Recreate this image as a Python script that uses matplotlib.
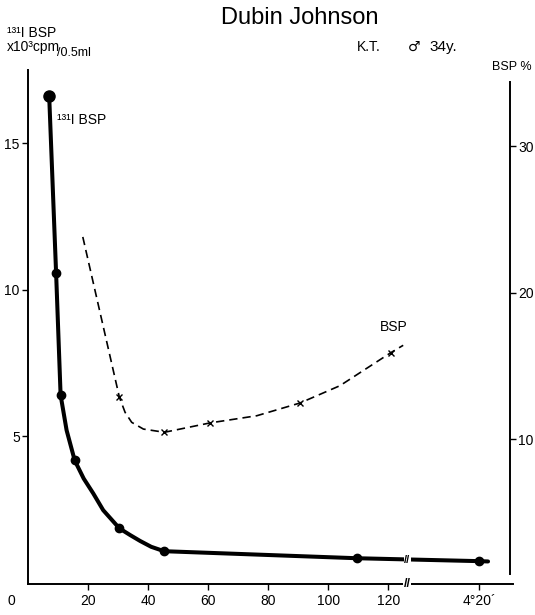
# Dubin Johnson: 131I BSP clearance and BSP % (two y axes, broken time axis)

import numpy as np
import matplotlib
matplotlib.use('Agg')
import matplotlib.pyplot as plt

plt.rcParams['font.family'] = ['Liberation Sans', 'DejaVu Sans']

# 131I BSP (x10^3 cpm / 0.5 ml), time in minutes
iv_line_t = [7.0, 9.3, 10.8, 12.8, 15.5, 18.5, 21.7, 25.0, 30.4, 34.0, 37.3, 41.0, 45.3, 109.5, 260, 276]
iv_line_v = [16.6, 10.57, 6.4, 5.2, 4.17, 3.55, 3.04, 2.47, 1.85, 1.62, 1.42, 1.22, 1.07, 0.83, 0.73, 0.72]
iv_mark_t = [9.3, 10.8, 15.5, 30.4, 45.3, 109.5, 260]
iv_mark_v = [10.57, 6.4, 4.17, 1.85, 1.07, 0.83, 0.73]
iv_first_t = [7.0]
iv_first_v = [16.6]

# BSP %
bsp_line_t = [18.2, 30.4, 32.3, 34.5, 38.4, 45.4, 60.6, 76.2, 90.6, 103.9, 120.9, 125]
bsp_line_v = [23.8, 12.85, 11.82, 11.14, 10.68, 10.46, 11.1, 11.59, 12.46, 13.64, 15.9, 16.4]
bsp_mark_t = [30.4, 45.4, 60.6, 90.6, 120.9]
bsp_mark_v = [12.85, 10.46, 11.1, 12.46, 15.9]

x_ticks = [20, 40, 60, 80, 100, 120, 260]
x_labels = ['20', '40', '60', '80', '100', '120', '4°20´']
left_ticks = [5, 10, 15]
right_ticks = [10, 20, 30]

# broken time axis: linear up to the break, compressed after it
BRK = 126.3
K = (150.4 - BRK) / (260 - BRK)


def fwd(t):
    t = np.asarray(t, dtype=float)
    return np.where(t <= BRK, t, BRK + (t - BRK) * K)


def inv(p):
    p = np.asarray(p, dtype=float)
    return np.where(p <= BRK, p, BRK + (p - BRK) / K)


fig = plt.figure(figsize=(5.35, 6.15), dpi=100)
ax = fig.add_axes([28.2 / 535, 31 / 615, (513 - 28.2) / 535, (584 - 70) / 615])
ax.set_xscale('function', functions=(fwd, inv))
ax.set_xlim(0, float(inv(161.6)))
ax.set_ylim(-0.05, 17.5)

ax.plot(iv_line_t, iv_line_v, color='black', lw=2.9, solid_capstyle='round',
        solid_joinstyle='round', zorder=3)
ax.plot(iv_mark_t, iv_mark_v, 'o', color='black', ms=6, zorder=4)
ax.plot(iv_first_t, iv_first_v, 'o', color='black', ms=8, zorder=4)

ax2 = ax.twinx()
ax2.set_ylim(0.1, 35.2)
ax2.plot(bsp_line_t, bsp_line_v, color='black', lw=1.2, dashes=[5, 3], zorder=3)
ax2.plot(bsp_mark_t, bsp_mark_v, 'x', color='black', ms=4, mew=1.0, zorder=4)

for a in (ax, ax2):
    a.spines['top'].set_visible(False)
    for s in a.spines.values():
        s.set_linewidth(1.4)
ax.spines['right'].set_visible(False)
ax2.spines['left'].set_visible(False)
ax2.spines['bottom'].set_visible(False)
ax2.spines['right'].set_position(('axes', 0.994))
ax2.spines['right'].set_bounds(0.8, 34.4)

ax.set_xticks(x_ticks)
ax.set_xticklabels(x_labels)
ax.set_yticks(left_ticks)
ax2.set_yticks(right_ticks)
ax.tick_params(axis='x', direction='out', length=4, width=1, pad=3, labelsize=10)
ax.tick_params(axis='y', direction='out', length=4, width=1, pad=2, labelsize=10)
ax2.tick_params(axis='y', direction='out', length=4, width=1, pad=2, labelsize=10)

# "0" sits left of the axis corner
ax.annotate('0', xy=(0, 0), xycoords='axes fraction', xytext=(-12, -7),
            textcoords='offset points', ha='center', va='top', fontsize=10)

# break marks on the time axis and on the curve
ax.text(BRK, 0, '//', transform=ax.get_xaxis_transform(), ha='center', va='center',
        fontsize=9, fontweight='bold', bbox=dict(fc='white', ec='none', pad=0.3), zorder=5,
        clip_on=False)
ax.text(BRK, 0.78, '//', ha='center', va='center', fontsize=8, fontweight='bold',
        bbox=dict(fc='white', ec='none', pad=0.3), zorder=5)

# labels
fig.text(300 / 535, 1 - 18 / 615, 'Dubin Johnson', ha='center', va='center', fontsize=17)
fig.text(357 / 535, 1 - 47 / 615, 'K.T.', ha='left', va='center', fontsize=10)
fig.text(414 / 535, 1 - 47 / 615, '♂', ha='center', va='center', fontsize=10,
         family=['DejaVu Sans'])
fig.text(429 / 535, 1 - 47 / 615, '34y.', ha='left', va='center', fontsize=11)
fig.text(7 / 535, 1 - 33 / 615, '¹³¹I BSP', ha='left', va='center', fontsize=10)
fig.text(7 / 535, 1 - 47 / 615, 'x10³cpm', ha='left', va='center', fontsize=10)
fig.text(57 / 535, 1 - 53 / 615, '/0.5ml', ha='left', va='center', fontsize=9)
fig.text(492 / 535, 1 - 67 / 615, 'BSP %', ha='left', va='center', fontsize=9)
ax.text(9.5, 15.8, '¹³¹I BSP', ha='left', va='center', fontsize=10)
ax2.text(122, 17.2, 'BSP', ha='center', va='bottom', fontsize=10)

fig.savefig('out.png', dpi=100)
